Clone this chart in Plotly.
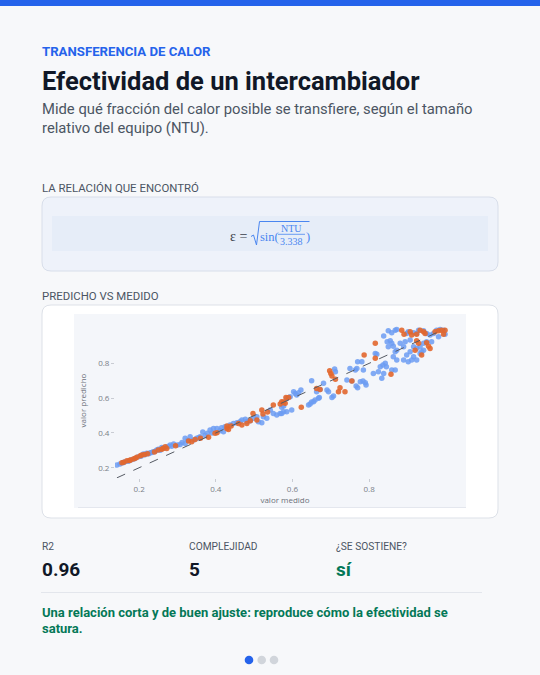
import plotly.graph_objects as go

W, H = 540, 675

# ---------------- texts ----------------
category_label = "TRANSFERENCIA DE CALOR"
title_text = "Efectividad de un intercambiador"
subtitle_lines = ["Mide qué fracción del calor posible se transfiere, según el tamaño",
                  "relativo del equipo (NTU)."]
formula_section = "LA RELACIÓN QUE ENCONTRÓ"
chart_section = "PREDICHO VS MEDIDO"
stat_labels = ["R2", "COMPLEJIDAD", "¿SE SOSTIENE?"]
stat_values = ["0.96", "5", "sí"]
conclusion_lines = ["Una relación corta y de buen ajuste: reproduce cómo la efectividad se",
                    "satura."]
x_title = "valor medido"
y_title = "valor predicho"
x_tick_values = [0.2, 0.4, 0.6, 0.8]
y_tick_values = [0.2, 0.4, 0.6, 0.8]

# ---------------- data (measured, predicted) ----------------
blue_pairs = [
    (0.142, 0.216), (0.150, 0.222), (0.158, 0.228), (0.163, 0.235), (0.172, 0.238),
    (0.180, 0.246), (0.188, 0.252), (0.198, 0.263), (0.205, 0.266), (0.211, 0.279),
    (0.215, 0.274), (0.220, 0.283), (0.225, 0.280), (0.229, 0.286), (0.233, 0.288),
    (0.237, 0.292), (0.242, 0.295), (0.246, 0.302), (0.250, 0.306), (0.255, 0.300),
    (0.259, 0.317), (0.265, 0.312), (0.275, 0.322), (0.281, 0.330), (0.285, 0.323),
    (0.290, 0.336), (0.300, 0.331), (0.307, 0.334), (0.312, 0.345), (0.320, 0.340),
    (0.320, 0.369), (0.327, 0.357), (0.333, 0.378), (0.342, 0.359), (0.350, 0.369),
    (0.355, 0.372), (0.359, 0.378), (0.366, 0.405), (0.372, 0.385), (0.378, 0.398),
    (0.385, 0.417), (0.390, 0.400), (0.394, 0.426), (0.403, 0.426), (0.411, 0.413),
    (0.415, 0.430), (0.420, 0.407), (0.424, 0.436), (0.437, 0.445), (0.446, 0.455),
    (0.455, 0.459), (0.463, 0.465), (0.468, 0.474), (0.477, 0.478), (0.481, 0.465),
    (0.490, 0.470), (0.498, 0.484), (0.507, 0.493), (0.511, 0.465), (0.520, 0.459),
    (0.524, 0.493), (0.533, 0.484), (0.542, 0.532), (0.550, 0.512), (0.559, 0.503),
    (0.568, 0.512),
    (0.572, 0.512), (0.572, 0.547), (0.577, 0.522), (0.577, 0.555), (0.585, 0.522),
    (0.585, 0.599), (0.594, 0.608), (0.598, 0.532), (0.603, 0.637), (0.607, 0.627),
    (0.611, 0.618), (0.616, 0.631), (0.622, 0.647), (0.642, 0.560), (0.646, 0.566),
    (0.650, 0.578), (0.650, 0.700), (0.655, 0.580), (0.659, 0.589), (0.663, 0.637),
    (0.668, 0.599), (0.670, 0.604), (0.672, 0.650), (0.681, 0.685), (0.690, 0.647),
    (0.694, 0.637), (0.703, 0.604), (0.707, 0.612), (0.710, 0.767), (0.712, 0.752),
    (0.742, 0.704), (0.750, 0.771), (0.755, 0.698), (0.764, 0.762), (0.766, 0.670),
    (0.768, 0.771), (0.770, 0.660), (0.770, 0.809), (0.777, 0.694), (0.781, 0.809),
    (0.784, 0.698), (0.785, 0.762), (0.790, 0.689), (0.792, 0.675), (0.811, 0.742),
    (0.816, 0.857), (0.820, 0.852), (0.824, 0.752), (0.829, 0.781), (0.833, 0.714),
    (0.836, 0.790), (0.838, 0.742), (0.838, 0.957), (0.842, 0.800), (0.845, 0.781),
    (0.847, 0.924), (0.850, 0.896), (0.850, 0.988), (0.855, 0.930), (0.859, 0.915),
    (0.859, 0.762), (0.859, 0.976), (0.863, 0.899), (0.863, 0.838), (0.868, 0.867),
    (0.868, 0.762), (0.868, 0.991), (0.872, 0.876), (0.872, 0.819), (0.872, 0.995),
    (0.881, 0.915), (0.890, 0.896), (0.890, 0.819), (0.894, 0.924), (0.898, 0.972),
    (0.898, 0.848), (0.902, 0.982), (0.902, 0.809), (0.907, 0.867), (0.907, 0.934),
    (0.911, 0.819), (0.916, 0.976), (0.916, 0.896), (0.916, 0.838), (0.924, 0.972),
    (0.924, 0.886), (0.924, 0.819), (0.929, 0.991), (0.933, 0.896), (0.933, 0.857),
    (0.937, 0.867), (0.942, 0.988), (0.942, 0.915), (0.942, 0.876), (0.950, 0.972),
    (0.950, 0.924), (0.959, 0.963), (0.963, 0.924), (0.968, 0.972), (0.976, 0.991),
    (0.981, 0.953), (0.985, 0.995), (0.994, 0.991), (0.998, 0.968),
]

orange_pairs = [
    (0.155, 0.229), (0.160, 0.232), (0.168, 0.240), (0.175, 0.241), (0.177, 0.244),
    (0.185, 0.250), (0.190, 0.254), (0.194, 0.260), (0.203, 0.269), (0.207, 0.273),
    (0.214, 0.276), (0.222, 0.281), (0.240, 0.290), (0.250, 0.302), (0.259, 0.306),
    (0.262, 0.310), (0.268, 0.321), (0.272, 0.311), (0.295, 0.327), (0.329, 0.353),
    (0.337, 0.350), (0.346, 0.363), (0.360, 0.370), (0.381, 0.375), (0.398, 0.398),
    (0.403, 0.401), (0.429, 0.426), (0.429, 0.440), (0.433, 0.420), (0.440, 0.440),
    (0.459, 0.455), (0.468, 0.445), (0.481, 0.455), (0.490, 0.470), (0.497, 0.512),
    (0.507, 0.474), (0.520, 0.532), (0.523, 0.509), (0.535, 0.520), (0.550, 0.560),
    (0.568, 0.566),
    (0.572, 0.580), (0.577, 0.578), (0.581, 0.570), (0.583, 0.604), (0.590, 0.604),
    (0.623, 0.547), (0.663, 0.656), (0.672, 0.650), (0.697, 0.758), (0.700, 0.742),
    (0.703, 0.727), (0.712, 0.708), (0.720, 0.637), (0.724, 0.660), (0.737, 0.637),
    (0.755, 0.698), (0.787, 0.848), (0.816, 0.915), (0.816, 0.829), (0.857, 0.737),
    (0.885, 0.991), (0.891, 0.968), (0.907, 0.982), (0.911, 0.963), (0.920, 0.876),
    (0.924, 0.968), (0.924, 0.930), (0.929, 0.915), (0.933, 0.991), (0.937, 0.848),
    (0.942, 0.982), (0.946, 0.972), (0.950, 0.919), (0.955, 0.899), (0.959, 0.886),
    (0.972, 0.982), (0.981, 0.988), (0.989, 0.991), (0.994, 0.968), (0.998, 0.991),
]

blue_measured = [p[0] for p in blue_pairs]
blue_predicted = [p[1] for p in blue_pairs]
orange_measured = [p[0] for p in orange_pairs]
orange_predicted = [p[1] for p in orange_pairs]

# ---------------- styling ----------------
UI = "Roboto, Noto Sans, sans-serif"
SERIF = "Liberation Serif, DejaVu Serif, serif"
PAGE_BG = "#f7f8fa"
BLUE = "#2563eb"
DARK = "#111827"
GRAY = "#4b5563"
GREEN = "#047857"
MATH_BLUE = "#4a86f0"


def px(x):
    return x / W


def py(y):
    return 1 - y / H


def rounded_rect(x0, y0, x1, y1, r):
    rx, ry = r / W, r / H
    X0, X1, Yt, Yb = px(x0), px(x1), py(y0), py(y1)
    return (f"M {X0 + rx},{Yt} L {X1 - rx},{Yt} Q {X1},{Yt} {X1},{Yt - ry} "
            f"L {X1},{Yb + ry} Q {X1},{Yb} {X1 - rx},{Yb} L {X0 + rx},{Yb} "
            f"Q {X0},{Yb} {X0},{Yb + ry} L {X0},{Yt - ry} Q {X0},{Yt} {X0 + rx},{Yt} Z")


shapes = []
annotations = []


def rect(x0, y0, x1, y1, fill, line=None, layer="below"):
    shapes.append(dict(type="rect", xref="paper", yref="paper", x0=px(x0), x1=px(x1),
                       y0=py(y1), y1=py(y0), fillcolor=fill, layer=layer,
                       line=dict(width=0) if line is None else dict(color=line, width=1)))


def path(d, fill=None, line=None, width=1, layer="below"):
    s = dict(type="path", xref="paper", yref="paper", path=d, layer=layer,
             line=dict(color=line, width=width) if line else dict(width=0))
    if fill:
        s["fillcolor"] = fill
    shapes.append(s)


def seg(x0, y0, x1, y1, color, width=1, layer="below"):
    shapes.append(dict(type="line", xref="paper", yref="paper", x0=px(x0), y0=py(y0),
                       x1=px(x1), y1=py(y1), layer=layer, line=dict(color=color, width=width)))


def text(x, y, s, size, color, weight=400, family=UI, anchor="left"):
    annotations.append(dict(x=px(x), y=py(y), xref="paper", yref="paper", text=s,
                            showarrow=False, xanchor=anchor, yanchor="middle",
                            borderpad=0, font=dict(size=size, color=color, family=family,
                                                   weight=weight)))


# top bar
rect(0, 0, W, 6, BLUE)

# header texts
text(41, 51, category_label, 13.2, BLUE, 700)
text(41, 81, title_text, 25.5, DARK, 700)
text(41, 109, subtitle_lines[0], 14.8, GRAY)
text(41, 128, subtitle_lines[1], 14.8, GRAY)

# formula section
text(41, 188, formula_section, 11.4, GRAY)
path(rounded_rect(42, 197, 498, 271, 9), fill="#eef2fa", line="#d8deea")
rect(52, 216, 488, 251, "#e6edf8")
text(238, 236, "ε =", 14, "#3a3f4a", family=SERIF, anchor="center")
# radical sign and fraction
path(f"M {px(251)},{py(236.5)} L {px(253.5)},{py(235)} L {px(256.5)},{py(245)} "
     f"L {px(259.5)},{py(221.5)} L {px(309.5)},{py(221.5)}", line=MATH_BLUE, width=1, layer="above")
text(259, 236.5, "sin(", 12.5, MATH_BLUE, family=SERIF)
text(291.5, 228.5, "NTU", 10, MATH_BLUE, family=SERIF, anchor="center")
seg(278, 234.3, 305, 234.3, MATH_BLUE, 0.8, layer="above")
text(291.5, 241.8, "3.338", 10, MATH_BLUE, family=SERIF, anchor="center")
text(305, 236.5, ")", 12.5, MATH_BLUE, family=SERIF)

# chart section
text(41, 296, chart_section, 11.4, GRAY)
path(rounded_rect(42, 305, 498, 518, 9), fill="#ffffff", line="#dde1e8")
rect(74, 314, 466, 508, "#f4f6fa")
seg(78, 507.5, 466, 507.5, "#e4e7ee", 1)

# stats
stat_x = [41, 188, 335]
for i in range(3):
    text(stat_x[i], 546, stat_labels[i], 10.2, GRAY)
    text(stat_x[i], 569.5, stat_values[i], 19, GREEN if i == 2 else DARK, 700)

seg(41, 592.5, 482, 592.5, "#e3e6ec", 1)
text(41, 612, conclusion_lines[0], 13, GREEN, 700)
text(41, 628, conclusion_lines[1], 13, GREEN, 700)

# pager dots
for cx, col in [(249, BLUE), (261.7, "#d1d5db"), (274, "#d1d5db")]:
    shapes.append(dict(type="circle", xref="paper", yref="paper", x0=px(cx - 4.3), x1=px(cx + 4.3),
                       y0=py(660 + 4.3), y1=py(660 - 4.3), fillcolor=col, line=dict(width=0)))

# ---------------- scatter ----------------
fig = go.Figure()
fig.add_trace(go.Scatter(x=blue_measured, y=blue_predicted, mode="markers",
                         marker=dict(size=5.5, color="#6c9cf2", opacity=0.85),
                         showlegend=False))
fig.add_trace(go.Scatter(x=orange_measured, y=orange_predicted, mode="markers",
                         marker=dict(size=5.5, color="#e2672d", opacity=0.9),
                         showlegend=False))
lo = min(blue_measured + orange_measured)
hi = max(blue_measured + orange_measured)
fig.add_trace(go.Scatter(x=[lo, hi], y=[lo, hi], mode="lines",
                         line=dict(color="#555a63", width=1, dash="dash"),
                         showlegend=False, hoverinfo="skip"))

axis_common = dict(showgrid=False, zeroline=False, showline=False, ticks="outside",
                   ticklen=3, tickcolor="#c9ccd3", tickfont=dict(size=8, color="#7a7f88", family="Open Sans"),
                   title_font=dict(size=8, color="#6b7079", family="Open Sans"))

fig.update_layout(
    width=W, height=H,
    margin=dict(l=0, r=0, t=0, b=0),
    paper_bgcolor=PAGE_BG,
    plot_bgcolor="#f4f6fa",
    shapes=shapes,
    annotations=annotations,
    xaxis=dict(domain=[px(115), px(455)], range=[0.137, 1.024], tickvals=x_tick_values,
               title=dict(text=x_title, standoff=4), **axis_common),
    yaxis=dict(domain=[py(478), py(323)], range=[0.141, 1.032], tickvals=y_tick_values,
               title=dict(text=y_title, standoff=10), **axis_common),
)

fig.write_html("out.html", config={"displayModeBar": False},
               post_script="document.body.style.margin='0';document.body.style.overflow='hidden';")
